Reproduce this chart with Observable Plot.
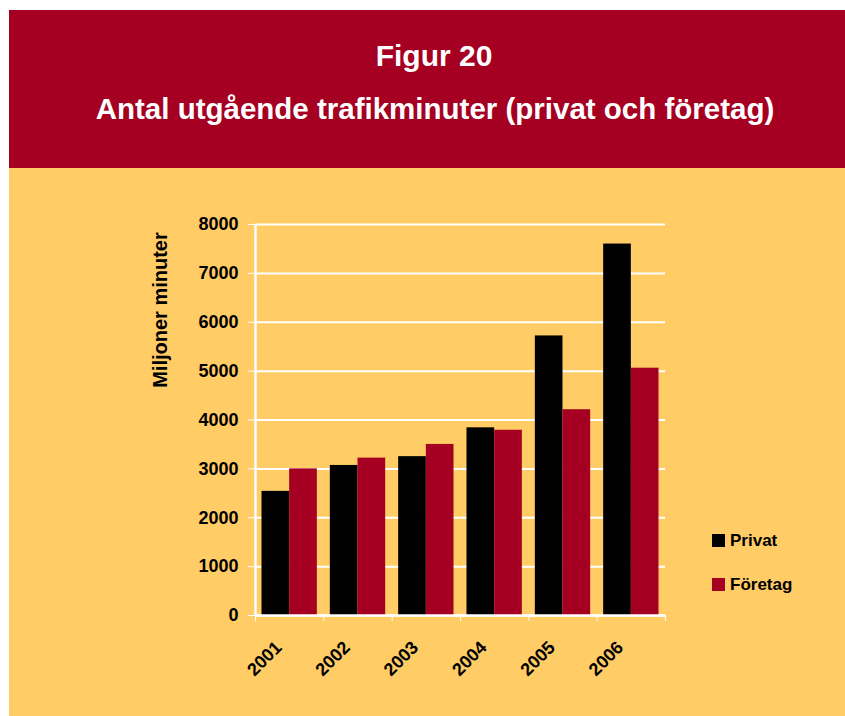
<!DOCTYPE html>
<html>
<head>
<meta charset="utf-8">
<script src="https://cdn.jsdelivr.net/npm/d3@7"></script>
<script src="https://cdn.jsdelivr.net/npm/@observablehq/plot@0.6"></script>
<style>
  html, body { margin: 0; padding: 0; background: #ffffff; }
  body { width: 845px; height: 716px; position: relative; overflow: hidden; font-family: "Liberation Sans", Arial, sans-serif; }
  #header { position: absolute; left: 9px; top: 10px; width: 836px; height: 158px; background: #A50021; }
  #panel { position: absolute; left: 9px; top: 168px; width: 836px; height: 548px; background: #FFCC66; }
  .t { position: absolute; color: #fff; font-weight: bold; white-space: nowrap; transform: translateX(-50%); line-height: 1; }
  #title { left: 434px; top: 41px; font-size: 30px; }
  #subtitle { left: 435px; top: 94px; font-size: 29.5px; }
  #ylabel { position: absolute; left: 160px; top: 310px; font-size: 20px; font-weight: bold; color: #000; white-space: nowrap; transform: translate(-50%, -50%) rotate(-90deg); line-height: 1; }
  #chart { position: absolute; left: 0; top: 0; }
  #chart svg g[aria-label="y-axis tick label"] text { font-size: 18px; }
  #chart svg g[aria-label="x-axis tick label"] text { font-size: 18px; }
  .leg { position: absolute; left: 712px; font-size: 17px; font-weight: bold; color: #000; white-space: nowrap; line-height: 1; }
  .leg span.sw { display: inline-block; width: 13px; height: 13px; vertical-align: -1px; margin-right: 5px; }
</style>
</head>
<body>
<div id="header"></div>
<div id="panel"></div>
<div class="t" id="title">Figur 20</div>
<div class="t" id="subtitle">Antal utgående trafikminuter (privat och företag)</div>
<div id="ylabel">Miljoner minuter</div>
<div id="chart"></div>
<div id="legend"></div>
<script>
// ---- data ----
const years = [2001, 2002, 2003, 2004, 2005, 2006];
const seriesNames = ["Privat", "Företag"];
const privat = [2540, 3070, 3250, 3840, 5720, 7600];
const foretag = [3000, 3220, 3500, 3790, 4210, 5060];
const seriesColors = ["#000000", "#A50021"];
const yTicks = [0, 1000, 2000, 3000, 4000, 5000, 6000, 7000, 8000];

// ---- build table ----
const barFrac = 0.405; // width of one bar as fraction of year step
const rows = [];
years.forEach((yr, i) => {
  rows.push({year: yr, series: seriesNames[0], value: privat[i]});
  rows.push({year: yr, series: seriesNames[1], value: foretag[i]});
});
const boundaries = [years[0] - 0.5].concat(years.map(y => y + 0.5));

const chart = Plot.plot({
  width: 845,
  height: 716,
  marginLeft: 255,
  marginRight: 180,
  marginTop: 224,
  marginBottom: 101,
  style: {background: "transparent", fontFamily: "'Liberation Sans', Arial, sans-serif", fontSize: "18px", fontWeight: "bold", color: "#000"},
  x: {type: "linear", domain: [boundaries[0], boundaries[boundaries.length - 1]]},
  y: {domain: [0, 8000]},
  color: {domain: seriesNames, range: seriesColors},
  marks: [
    Plot.gridY(yTicks, {stroke: "white", strokeOpacity: 1, strokeWidth: 2}),
    Plot.rectY(rows, {
      x1: d => d.series === seriesNames[0] ? d.year - barFrac : d.year,
      x2: d => d.series === seriesNames[0] ? d.year : d.year + barFrac,
      y1: 0,
      y2: "value",
      fill: "series"
    }),
    Plot.ruleX([boundaries[0]], {stroke: "white", strokeWidth: 2.5}),
    Plot.ruleY([0], {stroke: "white", strokeWidth: 2.5}),
    Plot.axisY({ticks: yTicks, tickSize: 7, tickPadding: 10, stroke: "white", fill: "black", label: null, tickFormat: d => String(d)}),
    Plot.axisX({ticks: boundaries, tickSize: 6, stroke: "white", tickFormat: () => "", label: null}),
    Plot.axisX({ticks: years, tickSize: 0, tickRotate: -45, tickPadding: 29, dx: -11, tickFormat: d => String(d), fill: "black", label: null})
  ]
});
document.getElementById("chart").appendChild(chart);

// ---- legend ----
const legend = document.getElementById("legend");
const legendTops = [532, 576];
seriesNames.forEach((name, i) => {
  const el = document.createElement("div");
  el.className = "leg";
  el.style.top = legendTops[i] + "px";
  el.innerHTML = `<span class="sw" style="background:${seriesColors[i]}"></span>${name}`;
  legend.appendChild(el);
});
</script>
</body>
</html>
